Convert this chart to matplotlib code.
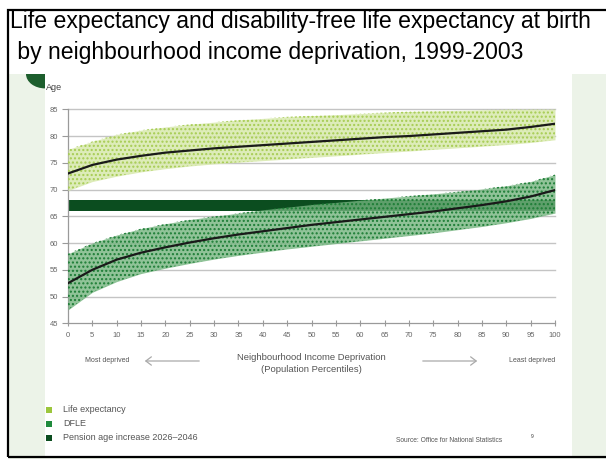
import matplotlib
matplotlib.use("Agg")
import matplotlib.pyplot as plt
from matplotlib.patches import Rectangle, Wedge, FancyArrowPatch

plt.rcParams['font.family'] = ['Liberation Sans', 'DejaVu Sans']

# ---- data ----
percentiles = [0, 5, 10, 15, 20, 25, 30, 35, 40, 45, 50, 55, 60, 65, 70, 75, 80, 85, 90, 95, 100]
le_trend = [73.0, 74.6, 75.6, 76.3, 76.9, 77.3, 77.7, 78.0, 78.3, 78.6, 78.9, 79.2, 79.5, 79.8, 80.0, 80.3, 80.6, 80.9, 81.2, 81.7, 82.3]
dfle_trend = [52.5, 55.0, 56.9, 58.2, 59.2, 60.1, 60.9, 61.6, 62.2, 62.8, 63.4, 63.9, 64.4, 64.9, 65.4, 65.9, 66.5, 67.1, 67.8, 68.7, 69.9]
# envelopes of the point clouds
le_low = [69.8, 71.5, 72.5, 73.3, 73.9, 74.4, 74.8, 75.1, 75.4, 75.7, 76.0, 76.3, 76.6, 76.9, 77.2, 77.5, 77.8, 78.1, 78.4, 78.8, 79.3]
le_high = [77.5, 79.0, 80.3, 81.1, 81.7, 82.2, 82.6, 83.0, 83.3, 83.6, 83.8, 84.0, 84.2, 84.4, 84.6, 84.7, 84.8, 84.9, 85.0, 85.0, 85.0]
dfle_low = [47.5, 50.8, 52.8, 54.3, 55.3, 56.2, 57.0, 57.7, 58.3, 58.9, 59.4, 59.9, 60.4, 60.9, 61.4, 61.9, 62.5, 63.1, 63.8, 64.6, 65.6]
dfle_high = [58.0, 60.0, 61.5, 62.7, 63.6, 64.4, 65.0, 65.6, 66.2, 66.7, 67.2, 67.6, 68.0, 68.4, 68.8, 69.2, 69.6, 70.1, 70.7, 71.5, 72.8]
pension_band = (66.0, 68.0)

y_ticks = [45, 50, 55, 60, 65, 70, 75, 80, 85]
x_ticks = list(range(0, 101, 5))
legend_labels = ['Life expectancy', 'DFLE', 'Pension age increase 2026\u20132046']

title1 = 'Life expectancy and disability-free life expectancy at birth'
title2 = ' by neighbourhood income deprivation, 1999-2003'

# ---- styling ----
W, H = 606, 459
c_le = '#9cc63c'
c_le_dot = '#a6cc52'
c_le_fill = '#d8e9ad'
c_dfle = '#1f8a3c'
c_dfle_dot = '#1c7d35'
c_dfle_fill = '#74b57f'
c_pension = '#0b4d1f'
c_panel = '#ecf3e8'
c_text = '#555555'

fig = plt.figure(figsize=(W / 100, H / 100), dpi=100)
fig.patch.set_facecolor('white')

def px(x, y):
    return x / W, 1 - y / H

# background panel
fig.add_artist(Rectangle(px(9, 459), (606 - 9) / W, (459 - 74) / H,
                         transform=fig.transFigure, facecolor=c_panel, edgecolor='none', zorder=-3))
fig.add_artist(Rectangle(px(45, 456), (572 - 45) / W, (456 - 74) / H,
                         transform=fig.transFigure, facecolor='white', edgecolor='none', zorder=-2))
fig.add_artist(Wedge(px(45, 74), 19 / W, 180, 270, transform=fig.transFigure,
                     facecolor='#1d5e2d', edgecolor='none', zorder=-1))
# border
fig.add_artist(Rectangle(px(7.5, 457), (620 - 7.5) / W, (457 - 10) / H,
                         transform=fig.transFigure, facecolor='none', edgecolor='black', lw=1.6, zorder=5))

# titles
fig.text(*px(10, 21.5), title1, fontsize=16.6, va='center', ha='left', color='black')
fig.text(*px(11, 53), title2, fontsize=16.6, va='center', ha='left', color='black')

ax = fig.add_axes([68 / W, 1 - 323.3 / H, 487 / W, 214 / H])
ax.set_facecolor('none')
ax.set_xlim(0, 100)
ax.set_ylim(45, 85)

for yv in y_ticks[1:]:
    ax.axhline(yv, color='#c4c4c4', lw=1.0, zorder=1, clip_on=False)

ax.axhspan(pension_band[0], pension_band[1], color=c_pension, zorder=2, lw=0)

ax.fill_between(percentiles, le_low, le_high, color=c_le_fill, lw=0, zorder=3, alpha=0.85)
ax.fill_between(percentiles, le_low, le_high, facecolor='none', edgecolor=c_le_dot, hatch='....', lw=0, zorder=3.1)
ax.fill_between(percentiles, dfle_low, dfle_high, color=c_dfle_fill, lw=0, zorder=3, alpha=0.8)
ax.fill_between(percentiles, dfle_low, dfle_high, facecolor='none', edgecolor=c_dfle_dot, hatch='....', lw=0, zorder=3.1)

ax.plot(percentiles, le_trend, color='#1a1a1a', lw=1.6, zorder=4)
ax.plot(percentiles, dfle_trend, color='#1a1a1a', lw=1.6, zorder=4)

for s in ['top', 'right']:
    ax.spines[s].set_visible(False)
for s in ['left', 'bottom']:
    ax.spines[s].set_color('#9a9a9a')
    ax.spines[s].set_linewidth(0.9)
ax.set_yticks(y_ticks)
ax.set_xticks(x_ticks)
ax.tick_params(axis='y', length=4, width=0.8, color='#9a9a9a', labelsize=5.5, labelcolor='#666666', pad=3)
ax.tick_params(axis='x', direction='inout', length=5, width=0.8, color='#9a9a9a', labelsize=5.5, labelcolor='#666666', pad=4)

fig.text(*px(46, 88), 'Age', fontsize=6.5, color='#444444', va='center', ha='left')

# x-axis caption and arrows
fig.text(*px(85, 361), 'Most deprived', fontsize=5, color=c_text, va='center', ha='left')
fig.text(*px(555, 361), 'Least deprived', fontsize=5, color=c_text, va='center', ha='right')
fig.text(*px(311, 357), 'Neighbourhood Income Deprivation', fontsize=6.8, color=c_text, va='center', ha='center')
fig.text(*px(311, 370), '(Population Percentiles)', fontsize=6.8, color=c_text, va='center', ha='center')
fig.add_artist(FancyArrowPatch(px(202, 361), px(142, 361), transform=fig.transFigure,
                               arrowstyle='->,head_length=4,head_width=3', color='#aaaaaa', lw=0.9))
fig.add_artist(FancyArrowPatch(px(420, 361), px(480, 361), transform=fig.transFigure,
                               arrowstyle='->,head_length=4,head_width=3', color='#aaaaaa', lw=0.9))

# legend
for i, (lab, col) in enumerate(zip(legend_labels, [c_le, c_dfle, c_pension])):
    yc = 410 + 14 * i
    fig.add_artist(Rectangle(px(46, yc + 3), 6 / W, 6 / H, transform=fig.transFigure,
                             facecolor=col, edgecolor='none', zorder=3))
    fig.text(*px(63, yc), lab, fontsize=6.5, color=c_text, va='center', ha='left')

fig.text(*px(396, 440), 'Source: Office for National Statistics', fontsize=4.8, color=c_text, va='center', ha='left')
fig.text(*px(531, 437), '9', fontsize=3.5, color='#333333', va='center', ha='left')

fig.savefig('out.png', dpi=100)
